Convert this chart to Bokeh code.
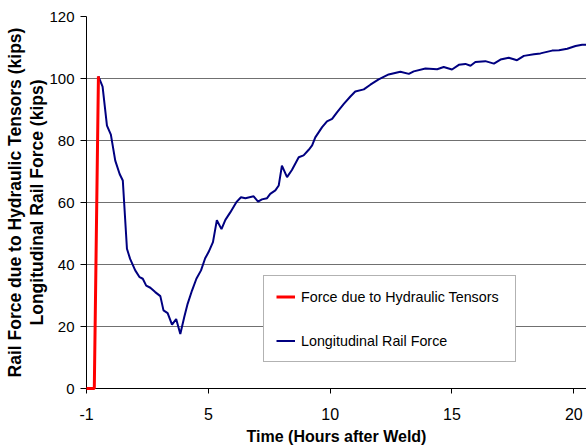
from bokeh.plotting import figure
from bokeh.models import Range1d, FixedTicker, Legend, LegendItem, Title
from bokeh.embed import file_html
from bokeh.resources import INLINE

# ---- data ----
time_ticks = [0, 5, 10, 15, 20]
tick_labels = {0: "-1", 5: "5", 10: "10", 15: "15", 20: "20"}
force_ticks = [0, 20, 40, 60, 80, 100, 120]

tensor_time = [0.0, 0.32, 0.49]
tensor_force = [0.0, 0.0, 100.7]

rail_time = [0.49, 0.66, 0.84, 1.00, 1.18, 1.36, 1.49, 1.66, 1.79, 2.00, 2.18, 2.31,
             2.45, 2.62, 2.82, 3.03, 3.16, 3.33, 3.51, 3.68, 3.85, 4.01, 4.15, 4.33,
             4.51, 4.70, 4.87, 5.01, 5.19, 5.35, 5.54, 5.70, 5.90, 6.15, 6.34, 6.52,
             6.86, 7.04, 7.20, 7.41, 7.54, 7.75, 7.89, 8.02, 8.23, 8.43, 8.71, 8.91,
             9.12, 9.26, 9.39, 9.67, 9.87, 10.08, 10.28, 10.56, 10.83, 11.03, 11.38,
             11.65, 11.99, 12.40, 12.88, 13.23, 13.43, 13.91, 14.39, 14.66, 15.00,
             15.28, 15.55, 15.76, 15.96, 16.37, 16.72, 16.99, 17.33, 17.67, 17.95,
             18.36, 18.63, 19.11, 19.39, 19.73, 20.07, 20.34, 20.52]
rail_force = [100.7, 97.4, 84.8, 81.9, 73.5, 69.2, 67.1, 45.1, 41.8, 38.1, 35.9, 35.4,
              33.2, 32.5, 31.1, 29.8, 25.2, 24.3, 20.6, 22.4, 17.6, 23.0, 27.3, 31.6,
              35.4, 38.1, 42.0, 44.0, 47.2, 54.3, 51.4, 54.4, 56.8, 60.1, 61.7, 61.4,
              62.0, 60.3, 61.0, 61.4, 62.8, 63.9, 65.5, 71.9, 68.2, 70.5, 74.6, 75.2,
              77.0, 78.4, 81.0, 84.3, 86.2, 87.0, 89.1, 91.8, 94.2, 95.8, 96.5,
              98.0, 99.7, 101.3, 102.2, 101.5, 102.3, 103.2, 103.0, 103.7, 102.9,
              104.4, 104.7, 104.1, 105.3, 105.6, 104.8, 106.1, 106.7, 105.9, 107.3,
              107.8, 108.1, 109.0, 109.1, 109.6, 110.5, 110.9, 110.9]

FONT = "Liberation Sans"

p = figure(width=586, height=448, output_backend="svg", toolbar_location=None,
           x_range=Range1d(0, 20.52), y_range=Range1d(0, 120),
           min_border_left=86, min_border_right=0, min_border_top=16, min_border_bottom=60)
p.outline_line_color = None
p.background_fill_color = "white"

# axes
p.xaxis.ticker = FixedTicker(ticks=time_ticks)
p.xaxis.major_label_overrides = tick_labels
p.yaxis.ticker = FixedTicker(ticks=force_ticks)
for ax in (p.xaxis[0], p.yaxis[0]):
    ax.axis_line_color = "black"
    ax.major_tick_line_color = "black"
    ax.major_tick_in = 0
    ax.minor_tick_line_color = None
    ax.major_label_text_font = FONT
    ax.major_label_text_color = "black"
p.xaxis.major_tick_out = 5
p.yaxis.major_tick_out = 6
p.xaxis.major_label_text_font_size = "16px"
p.yaxis.major_label_text_font_size = "15px"
p.xaxis.major_label_standoff = 14
p.yaxis.major_label_standoff = 6
p.xaxis.axis_label = "Time (Hours after Weld)"
p.xaxis.axis_label_text_font = FONT
p.xaxis.axis_label_text_font_size = "16px"
p.xaxis.axis_label_text_font_style = "bold"
p.xaxis.axis_label_text_color = "black"
p.xaxis.axis_label_standoff = 5

p.xgrid.grid_line_color = None
p.ygrid.grid_line_color = "#707070"
p.ygrid.grid_line_width = 1

# y-axis titles (two lines)
t2 = Title(text="Longitudinal Rail Force (kips)", align="center",
           text_font=FONT, text_font_size="17.5px", text_font_style="bold",
           text_color="black", standoff=0)
t1 = Title(text="Rail Force due to Hydraulic Tensors (kips)", align="center",
           text_font=FONT, text_font_size="17.5px", text_font_style="bold",
           text_color="black", standoff=0)
p.add_layout(t2, "left")
p.add_layout(t1, "left")

r_red = p.line(tensor_time, tensor_force, line_color="#FF0000", line_width=3, level="overlay")
r_blue = p.line(rail_time, rail_force, line_color="#000080", line_width=2)

legend = Legend(items=[LegendItem(label="Force due to Hydraulic Tensors", renderers=[r_red]),
                       LegendItem(label="Longitudinal Rail Force", renderers=[r_blue])],
                location=(177, 26), orientation="vertical",
                label_text_font=FONT, label_text_font_size="14.3px", label_text_color="black",
                glyph_width=19, glyph_height=17, label_standoff=6, label_height=17,
                label_width=202, spacing=27, padding=12, margin=0,
                border_line_color="#666666", border_line_width=1,
                background_fill_color="white", background_fill_alpha=1.0)
p.add_layout(legend, "center")

open("out.html", "w").write(file_html(p, INLINE))
